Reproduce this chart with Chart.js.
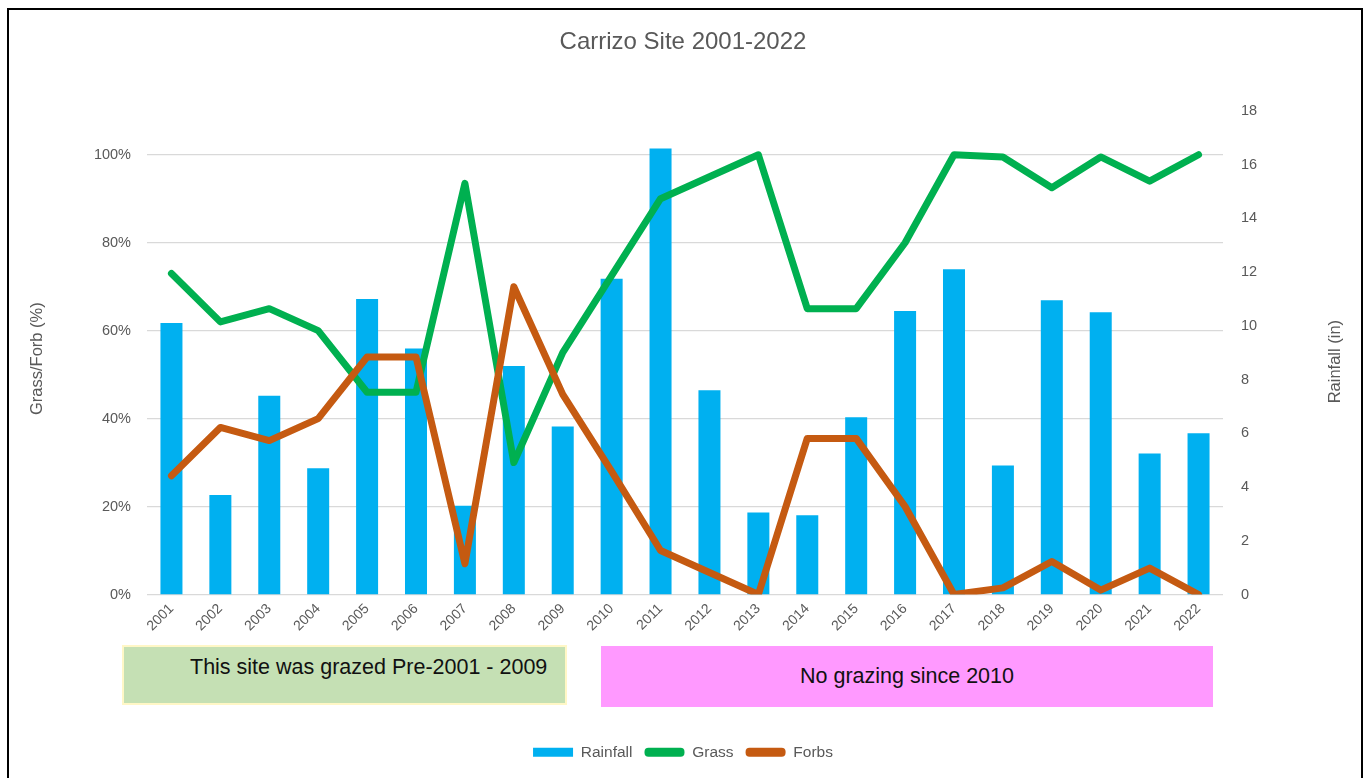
<!DOCTYPE html>
<html>
<head>
<meta charset="utf-8">
<script src="https://cdn.jsdelivr.net/npm/chart.js@4/dist/chart.umd.min.js"></script>
<style>
  html, body { margin: 0; padding: 0; background: #fff; }
  #wrap { position: relative; width: 1366px; height: 778px; overflow: hidden; }
  #frame { position: absolute; left: 7px; top: 8px; width: 1356px; height: 800px; border: 2px solid #000; box-sizing: border-box; pointer-events: none; }
  canvas { position: absolute; left: 0; top: 0; }
  .note { position: absolute; font-family: "Liberation Sans", Arial, sans-serif; font-size: 21.5px; color: #111; box-sizing: border-box; }
  #grazed { left: 122px; top: 645px; width: 445px; height: 60px; background: #C5E0B4; border: 2px solid #FFF7C6; }
  #grazed span { position: absolute; left: 66px; top: 8px; white-space: nowrap; }
  #nograze { left: 601px; top: 646px; width: 612px; height: 61px; background: #FF99FF; display: flex; align-items: center; justify-content: center; }
</style>
</head>
<body>
<div id="wrap">
  <canvas id="c" width="1366" height="778"></canvas>
  <div id="grazed" class="note"><span>This site was grazed Pre-2001 - 2009</span></div>
  <div id="nograze" class="note">No grazing since 2010</div>
  <div id="frame"></div>
</div>
<script>
const chartTitle = "Carrizo Site 2001-2022";
const years = ["2001","2002","2003","2004","2005","2006","2007","2008","2009","2010","2011","2012","2013","2014","2015","2016","2017","2018","2019","2020","2021","2022"];
const rainfall = [10.1, 3.7, 7.4, 4.7, 11.0, 9.15, 3.3, 8.5, 6.25, 11.75, 16.6, 7.6, 3.05, 2.95, 6.6, 10.55, 12.1, 4.8, 10.95, 10.5, 5.25, 6.0];
const grass = [0.73, 0.62, 0.65, 0.60, 0.46, 0.46, 0.935, 0.30, 0.55, 0.725, 0.90, 0.95, 1.00, 0.65, 0.65, 0.80, 1.00, 0.995, 0.925, 0.995, 0.94, 1.00];
const forbs = [0.27, 0.38, 0.35, 0.40, 0.54, 0.54, 0.07, 0.70, 0.455, 0.28, 0.10, 0.05, 0.00, 0.355, 0.355, 0.20, 0.00, 0.015, 0.075, 0.01, 0.06, 0.00];
const leftTicksMax = 1.0;
const axisTitleLeft = "Grass/Forb (%)";
const axisTitleRight = "Rainfall (in)";

const FONT = '"Liberation Sans", Arial, sans-serif';
const GREY = '#595959';

const axisTitles = {
  id: 'axisTitles',
  afterDraw(chart) {
    const ctx = chart.ctx;
    const ca = chart.chartArea;
    const cy = (ca.top + ca.bottom) / 2;
    ctx.save();
    ctx.fillStyle = GREY;
    ctx.font = '16.5px ' + FONT;
    ctx.textAlign = 'center';
    ctx.textBaseline = 'middle';
    ctx.translate(37, cy + 6);
    ctx.rotate(-Math.PI / 2);
    ctx.fillText(axisTitleLeft, 0, 0);
    ctx.restore();
    ctx.save();
    ctx.fillStyle = GREY;
    ctx.font = '16.5px ' + FONT;
    ctx.textAlign = 'center';
    ctx.textBaseline = 'middle';
    ctx.translate(1335, cy + 9);
    ctx.rotate(-Math.PI / 2);
    ctx.fillText(axisTitleRight, 0, 0);
    ctx.restore();
  }
};

new Chart(document.getElementById('c'), {
  type: 'bar',
  data: {
    labels: years,
    datasets: [
      { type: 'bar', label: 'Rainfall', data: rainfall, yAxisID: 'y1', backgroundColor: '#00B0F0', borderWidth: 0, barPercentage: 0.45, categoryPercentage: 1.0, order: 2 },
      { type: 'line', label: 'Grass', data: grass, yAxisID: 'y', borderColor: '#00B050', backgroundColor: '#00B050', borderWidth: 7, pointRadius: 0, borderCapStyle: 'round', borderJoinStyle: 'round', tension: 0, fill: false, order: 1 },
      { type: 'line', label: 'Forbs', data: forbs, yAxisID: 'y', borderColor: '#C55A11', backgroundColor: '#C55A11', borderWidth: 7, pointRadius: 0, borderCapStyle: 'round', borderJoinStyle: 'round', tension: 0, fill: false, order: 0 }
    ]
  },
  options: {
    responsive: false,
    animation: false,
    events: [],
    layout: { padding: { left: 0, right: 0, top: 10, bottom: 8 } },
    plugins: {
      title: { display: true, text: chartTitle, color: GREY, font: { family: FONT, size: 24, weight: 'normal' }, padding: { top: 18, bottom: 54 } },
      tooltip: { enabled: false },
      legend: {
        position: 'bottom',
        labels: {
          font: { family: FONT, size: 15.5 },
          color: GREY,
          boxWidth: 40,
          boxHeight: 9,
          padding: 12,
          useBorderRadius: true,
          generateLabels(chart) {
            return chart.data.datasets.map((ds, i) => ({
              text: ds.label, fillStyle: ds.backgroundColor, strokeStyle: ds.backgroundColor,
              lineWidth: 0, hidden: false, datasetIndex: i, fontColor: GREY,
              borderRadius: i === 0 ? 0 : 4
            }));
          }
        }
      }
    },
    scales: {
      x: {
        grid: { display: false, drawTicks: false },
        border: { display: false },
        ticks: { color: GREY, font: { family: FONT, size: 14 }, minRotation: 45, maxRotation: 45, padding: 6 },
        afterFit(s) { s.height = 138; }
      },
      y: {
        position: 'left',
        min: 0, max: 1.1,
        ticks: { stepSize: 0.2, color: GREY, font: { family: FONT, size: 14.5 }, padding: 16,
          callback: v => Math.round(v * 100) + '%' },
        afterBuildTicks(s) { s.ticks = s.ticks.filter(t => t.value <= leftTicksMax + 1e-6); },
        grid: { color: '#D9D9D9', lineWidth: 1.3, drawTicks: false },
        border: { display: false },
        afterFit(s) { s.width = 147; }
      },
      y1: {
        position: 'right',
        min: 0, max: 18,
        ticks: { stepSize: 2, color: GREY, font: { family: FONT, size: 14.5 }, padding: 18 },
        grid: { display: false, drawTicks: false },
        border: { display: false },
        afterFit(s) { s.width = 143; }
      }
    }
  },
  plugins: [axisTitles]
});
</script>
</body>
</html>
